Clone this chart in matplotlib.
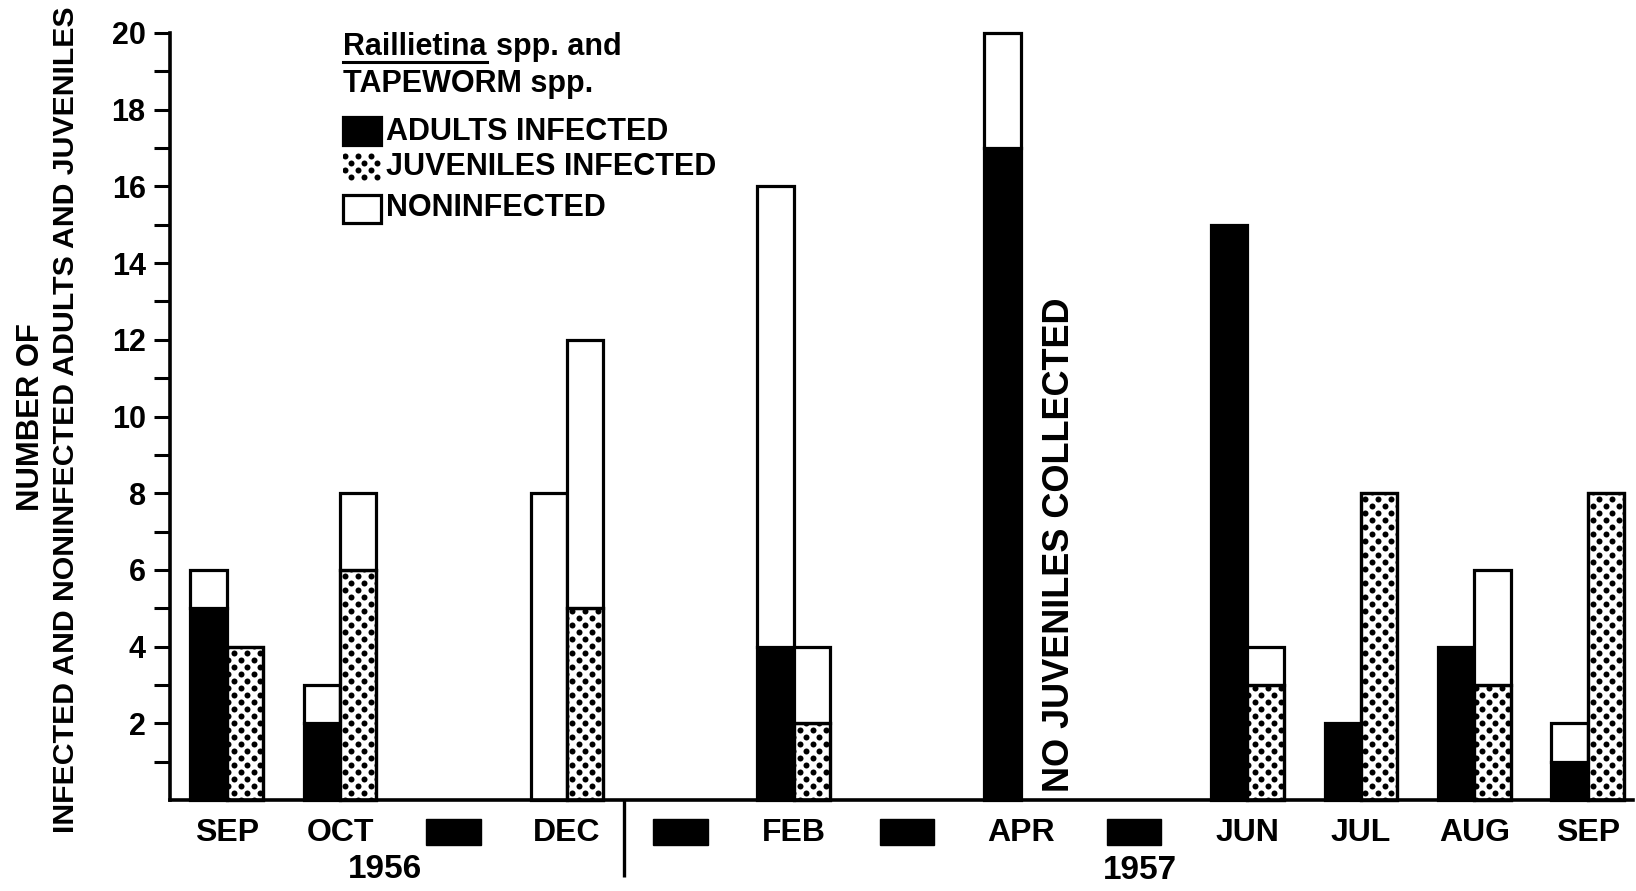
import numpy as np
import matplotlib
matplotlib.use("Agg")
import matplotlib.pyplot as plt
from matplotlib import font_manager
from matplotlib.patches import Rectangle
from matplotlib.lines import Line2D
from matplotlib.transforms import Bbox, IdentityTransform

# ---- data -------------------------------------------------------------
# None = month label blacked out in the axis row
month_labels = ['SEP', 'OCT', None, 'DEC', None, 'FEB', None, 'APR', None,
                'JUN', 'JUL', 'AUG', 'SEP']
year_labels = ['1956', '1957']
nan = np.nan
adults_infected = [5, 2, nan, 0, nan, 4, nan, 17, nan, 15, 2, 4, 1]
adults_noninfected = [1, 1, nan, 8, nan, 12, nan, 3, nan, 0, 0, 0, 1]
juveniles_infected = [4, 6, nan, 5, nan, 2, nan, nan, nan, 3, 8, 3, 8]
juveniles_noninfected = [0, 2, nan, 7, nan, 2, nan, nan, nan, 1, 0, 3, 0]
y_ticks = list(range(1, 21))

# ---- fonts ------------------------------------------------------------
def available(name):
    try:
        font_manager.findfont(font_manager.FontProperties(family=name),
                              fallback_to_default=False)
        return True
    except ValueError:
        return False

main_font = 'Liberation Sans' if available('Liberation Sans') else 'DejaVu Sans'
narrow_font = 'Liberation Sans Narrow' if available('Liberation Sans Narrow') else main_font

plt.rcParams['font.family'] = [main_font, 'DejaVu Sans']
plt.rcParams['font.weight'] = 'bold'

W, H, DPI = 1636, 891, 100
LW = 2.3

fig = plt.figure(figsize=(W / DPI, H / DPI), dpi=DPI)
fig.patch.set_facecolor('white')
ax = fig.add_axes([170 / W, 1 - 800 / H, (1633 - 170) / W, (800 - 33) / H])

x = np.arange(len(month_labels))
width = 0.32


def positive(vals):
    a = np.asarray(vals, dtype=float)
    return np.where(a > 0, a, np.nan)


ai = np.asarray(adults_infected, dtype=float)
ji = np.asarray(juveniles_infected, dtype=float)

ax.set_xlim(-0.5, 12.4)
ax.set_ylim(0, 20)

# adults: black infected, white noninfected stacked on top
ax.bar(x - width / 2, positive(adults_infected), width, color='black',
       edgecolor='black', linewidth=LW, clip_on=False)
ax.bar(x - width / 2, positive(adults_noninfected), width,
       bottom=np.nan_to_num(ai), facecolor='white', edgecolor='black',
       linewidth=LW, clip_on=False)
# juveniles: dotted infected, white noninfected stacked on top
juv_inf = ax.bar(x + width / 2, positive(juveniles_infected), width,
                 facecolor='white', edgecolor='black', linewidth=LW,
                 clip_on=False)
ax.bar(x + width / 2, positive(juveniles_noninfected), width,
       bottom=np.nan_to_num(ji), facecolor='white', edgecolor='black',
       linewidth=LW, clip_on=False)


# screen-tone dot texture (staggered rows of black dots), in pixels
DOT_DX, DOT_DY, DOT_D = 13.0, 7.0, 6.0


def dot_texture(bbox, zorder=3):
    """Fill a display-space bbox with staggered dots clipped to it."""
    r0 = int(np.floor(bbox.y0 / DOT_DY)) - 1
    r1 = int(np.ceil(bbox.y1 / DOT_DY)) + 1
    xs, ys = [], []
    for r in range(r0, r1 + 1):
        off = (r % 2) * DOT_DX / 2
        c0 = int(np.floor((bbox.x0 - off) / DOT_DX)) - 1
        c1 = int(np.ceil((bbox.x1 - off) / DOT_DX)) + 1
        for c in range(c0, c1 + 1):
            xs.append(c * DOT_DX + off)
            ys.append(r * DOT_DY)
    dots = Line2D(xs, ys, linestyle='none', marker='o',
                  markersize=DOT_D * 72 / DPI, markerfacecolor='black',
                  markeredgewidth=0, transform=IdentityTransform(),
                  zorder=zorder)
    dots.set_clip_box(bbox)
    dots.set_clip_on(True)
    fig.add_artist(dots)


for rect in juv_inf.patches:
    if np.isfinite(rect.get_height()) and rect.get_height() > 0:
        bb = rect.get_window_extent()
        dot_texture(Bbox.from_extents(bb.x0, bb.y0, bb.x1, bb.y1))
        # redraw the outline above the dots
        ax.add_patch(Rectangle(rect.get_xy(), rect.get_width(),
                               rect.get_height(), fill=False,
                               edgecolor='black', linewidth=LW,
                               clip_on=False, zorder=4))

# ---- axes -------------------------------------------------------------
ax.set_yticks(y_ticks, [str(v) if v % 2 == 0 else '' for v in y_ticks])
ax.tick_params(axis='y', length=11.5, width=2.2, pad=6, labelsize=22)
ax.set_xticks(x, [lab if lab else '' for lab in month_labels])
ax.tick_params(axis='x', length=0, pad=13, labelsize=23)
for side in ('top', 'right'):
    ax.spines[side].set_visible(False)
for side in ('left', 'bottom'):
    ax.spines[side].set_linewidth(2.6)
    ax.spines[side].set_zorder(5)

# blacked-out month labels
for i, lab in enumerate(month_labels):
    if lab is None:
        ax.add_patch(Rectangle((i - 0.24, -1.17), 0.48, 0.67, color='black',
                               clip_on=False))

# year divider and year labels
ax.plot([3.5, 3.5], [0, -2.0], color='black', lw=2.4, clip_on=False,
        solid_capstyle='butt')
ax.text(1.4, -1.8, year_labels[0], ha='center', va='center', fontsize=24)
ax.text(8.05, -1.85, year_labels[1], ha='center', va='center', fontsize=24)

ax.text(7.34, 6.65, 'NO JUVENILES COLLECTED', rotation=90, ha='center',
        va='center', fontsize=26)

# ---- y label (two lines, sized to span the axis) ----------------------
yl1 = fig.text(31 / W, 1 - 417 / H, 'NUMBER OF', rotation=90, ha='center',
               va='center', fontsize=24, family=[narrow_font, 'DejaVu Sans'])
yl2 = fig.text(66 / W, 1 - 420 / H,
               'INFECTED AND NONINFECTED ADULTS AND JUVENILES', rotation=90,
               ha='center', va='center', fontsize=24,
               family=[narrow_font, 'DejaVu Sans'])
fig.canvas.draw()
renderer = fig.canvas.get_renderer()
for t, target in ((yl1, 188), (yl2, 830)):
    span = t.get_window_extent(renderer).height
    t.set_fontsize(t.get_fontsize() * target / span)

# ---- legend (figure pixel coordinates from top-left) ------------------
def fx(px):
    return px / W


def fy(py):
    return 1 - py / H


def key_box(x0, y0, x1, y1, **kw):
    fig.add_artist(Rectangle((fx(x0), fy(y1)), (x1 - x0) / W, (y1 - y0) / H,
                             transform=fig.transFigure, linewidth=LW, **kw))


t_gen = fig.text(fx(343), fy(55), 'Raillietina', fontsize=22, ha='left',
                 va='baseline')
fig.canvas.draw()
bb = t_gen.get_window_extent(renderer)
fig.add_artist(Line2D([bb.x0 / W, bb.x1 / W], [fy(62), fy(62)],
                      transform=fig.transFigure, color='black', lw=2.2))
fig.text(bb.x1 / W + fx(10), fy(55), 'spp. and', fontsize=22, ha='left',
         va='baseline')
fig.text(fx(343), fy(92), 'TAPEWORM spp.', fontsize=22, ha='left',
         va='baseline')

key_box(343, 117, 381, 145, facecolor='black', edgecolor='black')
dot_texture(Bbox.from_extents(343, H - 180, 380, H - 153))
key_box(343, 195, 381, 223, facecolor='white', edgecolor='black')
legend_labels = ['ADULTS INFECTED', 'JUVENILES INFECTED', 'NONINFECTED']
for lab, yc in zip(legend_labels, (132, 167, 208)):
    fig.text(fx(386), fy(yc), lab, fontsize=22, ha='left', va='center')

fig.savefig('out.png', dpi=DPI, facecolor='white')
